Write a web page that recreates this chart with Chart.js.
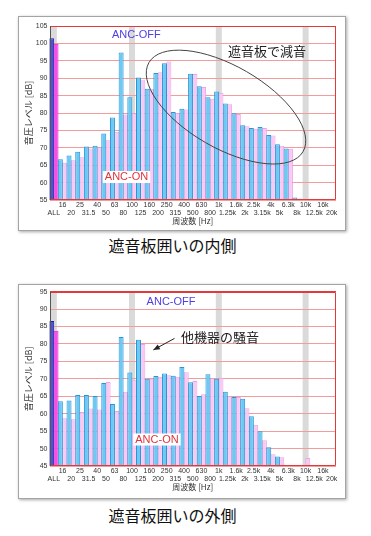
<!DOCTYPE html>
<html lang="ja">
<head>
<meta charset="utf-8">
<script src="https://cdn.jsdelivr.net/npm/chart.js@4.4.1/dist/chart.umd.min.js"></script>
<style>
body { margin:0; width:371px; height:536px; background:#fff; position:relative; overflow:hidden; font-family:"Noto Sans CJK JP", sans-serif; }
.frame { position:absolute; left:18px; width:326px; border:1px solid #a4a4a4; box-shadow:1px 1px 3px rgba(0,0,0,.35); background:#fff; }
canvas { position:absolute; left:19px; }
.caption { position:absolute; left:0; width:345px; text-align:center; font-size:16px; line-height:20px; color:#111; }
</style>
</head>
<body>
<div class="frame" style="top:16px;height:213px"></div>
<canvas id="inner" width="326" height="213" style="top:17px"></canvas>
<div class="caption" style="top:235px">遮音板囲いの内側</div>

<div class="frame" style="top:284px;height:213px"></div>
<canvas id="outer" width="326" height="213" style="top:283px"></canvas>
<div class="caption" style="top:505px">遮音板囲いの外側</div>

<script>
// 1/3 octave bands
const freqLabels = ['ALL', '16', '20', '25', '31.5', '40', '50', '63', '80', '100', '125', '160', '200',
    '250', '315', '400', '500', '630', '800', '1k', '1.25k', '1.6k', '2k', '2.5k', '3.15k', '4k', '5k',
    '6.3k', '8k', '10k', '12.5k', '16k', '20k'];

// inside the enclosure [dB]
const innerOff = [101.5, 66.7, 67.8, 68.9, 70.4, 70.6, 74.1, 78.7, 97.4, 84.5, 90.2, 87.0, 91.5, 94.3,
    80.3, 81.2, 91.3, 87.7, 84.5, 86.2, 82.7, 79.9, 76.5, 75.7, 76.0, 73.7, 71.0, 69.8, 55.7,
    null, null, null, null];
const innerOn = [99.9, 65.7, 66.4, 67.3, 69.8, 70.1, 72.2, 74.6, 79.6, 79.9, 89.4, 87.0, 91.7, 94.8,
    80.0, 81.0, 91.2, 87.5, 84.1, 85.8, 82.5, 79.7, 76.2, 75.5, 75.7, 73.5, 70.6, 69.7, 55.4,
    null, null, null, null];
const innerYTicks = [55, 60, 65, 70, 75, 80, 85, 90, 95, 100, 105];

// outside the enclosure [dB]
const outerOff = [86.6, 63.6, 63.8, 65.4, 65.4, 65.1, 68.8, 62.8, 82.0, 71.8, 81.2, 70.0, 70.8, 71.5,
    70.9, 73.4, 69.0, 65.1, 71.3, 70.0, 66.3, 64.8, 64.3, 59.3, 55.0, 50.4, 47.7,
    null, null, null, null, null, null];
const outerOn = [83.8, 58.7, 58.4, 60.5, 61.5, 61.2, 69.1, 60.8, 66.3, 69.6, 80.0, 70.0, 70.6, 71.0,
    70.6, 71.9, 69.4, 65.6, 70.1, 70.3, 65.0, 64.8, 61.6, 56.8, 52.4, 48.4, 47.5,
    null, null, 47.3, null, null, null];
const outerYTicks = [45, 50, 55, 60, 65, 70, 75, 80, 85, 90, 95];

// grey marker columns (ALL, 100, 1k, 10k)
const bandIndex = [0, 9, 19, 29];

const RED = '#e23a3a';

// Background bands, plot frame and annotations
const framePlugin = {
    id: 'frame',
    beforeDraw(chart) {
        const {ctx, chartArea: a, scales: {x}} = chart;
        ctx.save();
        ctx.fillStyle = '#dadada';
        bandIndex.forEach(i => {
            const px = x.getPixelForValue(i);
            ctx.fillRect(px - 3, a.top, 6, a.bottom - a.top);
        });
        ctx.restore();
    },
    afterDatasetsDraw(chart, args, opts) {
        const {ctx, chartArea: a, scales: {x, y}} = chart;
        ctx.save();
        ctx.lineWidth = 1;
        ctx.strokeStyle = RED;
        ctx.beginPath();
        ctx.moveTo(Math.round(a.left) + 0.5, Math.round(a.top) + 0.5);
        ctx.lineTo(Math.round(a.right) - 0.5, Math.round(a.top) + 0.5);
        ctx.lineTo(Math.round(a.right) - 0.5, Math.round(a.bottom) - 0.5);
        ctx.lineTo(Math.round(a.left) + 0.5, Math.round(a.bottom) - 0.5);
        ctx.stroke();
        ctx.strokeStyle = '#555';
        ctx.beginPath();
        ctx.moveTo(Math.round(a.left) + 0.5, Math.round(a.top));
        ctx.lineTo(Math.round(a.left) + 0.5, Math.round(a.bottom));
        ctx.stroke();

        (opts.notes || []).forEach(n => {
            if (n.type === 'ellipse') {
                ctx.strokeStyle = '#444';
                ctx.beginPath();
                ctx.ellipse(x.getPixelForValue(n.x), y.getPixelForValue(n.y), n.rx, n.ry,
                    n.rot * Math.PI / 180, 0, Math.PI * 2);
                ctx.stroke();
            } else if (n.type === 'arrow') {
                const x1 = x.getPixelForValue(n.x1), y1 = y.getPixelForValue(n.y1);
                const x2 = x.getPixelForValue(n.x2), y2 = y.getPixelForValue(n.y2);
                const ang = Math.atan2(y2 - y1, x2 - x1);
                ctx.strokeStyle = '#222';
                ctx.fillStyle = '#222';
                ctx.beginPath();
                ctx.moveTo(x1, y1);
                ctx.lineTo(x2, y2);
                ctx.stroke();
                ctx.beginPath();
                ctx.moveTo(x2, y2);
                ctx.lineTo(x2 - 7 * Math.cos(ang - 0.4), y2 - 7 * Math.sin(ang - 0.4));
                ctx.lineTo(x2 - 7 * Math.cos(ang + 0.4), y2 - 7 * Math.sin(ang + 0.4));
                ctx.closePath();
                ctx.fill();
            } else {
                const px = x.getPixelForValue(n.x), py = y.getPixelForValue(n.y);
                ctx.font = n.font;
                ctx.textAlign = 'center';
                ctx.textBaseline = 'middle';
                if (n.bg) {
                    const w = ctx.measureText(n.text).width;
                    ctx.fillStyle = n.bg;
                    ctx.fillRect(px - w / 2 - 2, py - 6, w + 4, 12);
                }
                ctx.fillStyle = n.color;
                ctx.fillText(n.text, px, py);
            }
        });
        ctx.restore();
    }
};

function makeChart(id, offData, onData, yTicks, topPad, notes) {
    const ctx = document.getElementById(id).getContext('2d');
    return new Chart(ctx, {
        type: 'bar',
        data: {
            labels: freqLabels,
            datasets: [{
                label: 'ANC-OFF',
                data: offData,
                backgroundColor: c => c.dataIndex === 0 ? '#5050e2' : '#6ccaf2',
                borderColor: c => c.dataIndex === 0 ? '#24249a' : '#2a94d8',
                borderWidth: 1,
                categoryPercentage: 1,
                barPercentage: 1.15
            }, {
                label: 'ANC-ON',
                data: onData,
                backgroundColor: c => c.dataIndex === 0 ? '#ff4aea' : '#f9c9f4',
                borderColor: c => c.dataIndex === 0 ? '#d42ac6' : '#eca4e6',
                borderWidth: 1,
                categoryPercentage: 1,
                barPercentage: 1.15
            }]
        },
        options: {
            responsive: false,
            animation: false,
            layout: { padding: { left: 0.5, top: topPad, right: 9, bottom: 0 } },
            plugins: {
                legend: { display: false },
                tooltip: { enabled: false },
                frame: { notes: notes }
            },
            scales: {
                x: {
                    grid: { display: false, drawTicks: false },
                    border: { display: false },
                    ticks: {
                        autoSkip: false,
                        maxRotation: 0,
                        minRotation: 0,
                        padding: 1,
                        color: '#333',
                        font: { family: 'Liberation Sans', size: 7, lineHeight: 1.15 },
                        callback: (v, i) => i % 2 ? [freqLabels[i], ''] : ['', freqLabels[i]]
                    },
                    title: {
                        display: true,
                        text: '周波数 [Hz]',
                        color: '#333',
                        font: { family: 'Noto Sans CJK JP', size: 8, lineHeight: 1.2 },
                        padding: { top: 0, bottom: 4 }
                    },
                    afterFit: s => { s.height = 30; }
                },
                y: {
                    min: yTicks[0],
                    max: yTicks[yTicks.length - 1],
                    grid: {
                        drawTicks: false,
                        color: c => c.tick && c.tick.value === yTicks[yTicks.length - 1] ? RED : '#f29c9c'
                    },
                    border: { display: false },
                    ticks: {
                        stepSize: yTicks[1] - yTicks[0],
                        padding: 2,
                        color: '#333',
                        font: { family: 'Liberation Sans', size: 7 }
                    },
                    title: {
                        display: true,
                        text: '音圧レベル [dB]',
                        color: '#333',
                        font: { family: 'Noto Sans CJK JP', size: 9, lineHeight: 1.2 },
                        padding: { top: 4, bottom: 0 }
                    },
                    afterFit: s => { s.width = 30; }
                }
            }
        },
        plugins: [framePlugin]
    });
}

makeChart('inner', innerOff, innerOn, innerYTicks, 9, [
    { text: 'ANC-OFF', x: 9.5, y: 102.4, font: '11px "Liberation Sans"', color: '#4e3fe0' },
    { text: 'ANC-ON', x: 8.37, y: 61.6, font: '11px "Liberation Sans"', color: '#e2343a', bg: '#fff' },
    { text: '遮音板で減音', x: 24.56, y: 97.7, font: '13px "Noto Sans CJK JP"', color: '#222' },
    { type: 'ellipse', x: 19.83, y: 81.7, rx: 89, ry: 41, rot: 30 }
]);

makeChart('outer', outerOff, outerOn, outerYTicks, 8.7, [
    { text: 'ANC-OFF', x: 13.5, y: 92.05, font: '11px "Liberation Sans"', color: '#4e3fe0' },
    { text: 'ANC-ON', x: 11.88, y: 52.6, font: '11px "Liberation Sans"', color: '#e2343a', bg: '#fff' },
    { text: '他機器の騒音', x: 19.15, y: 81.9, font: '13px "Noto Sans CJK JP"', color: '#222' },
    { type: 'arrow', x1: 13.9, y1: 81.6, x2: 11.46, y2: 78.3 }
]);
</script>
</body>
</html>
